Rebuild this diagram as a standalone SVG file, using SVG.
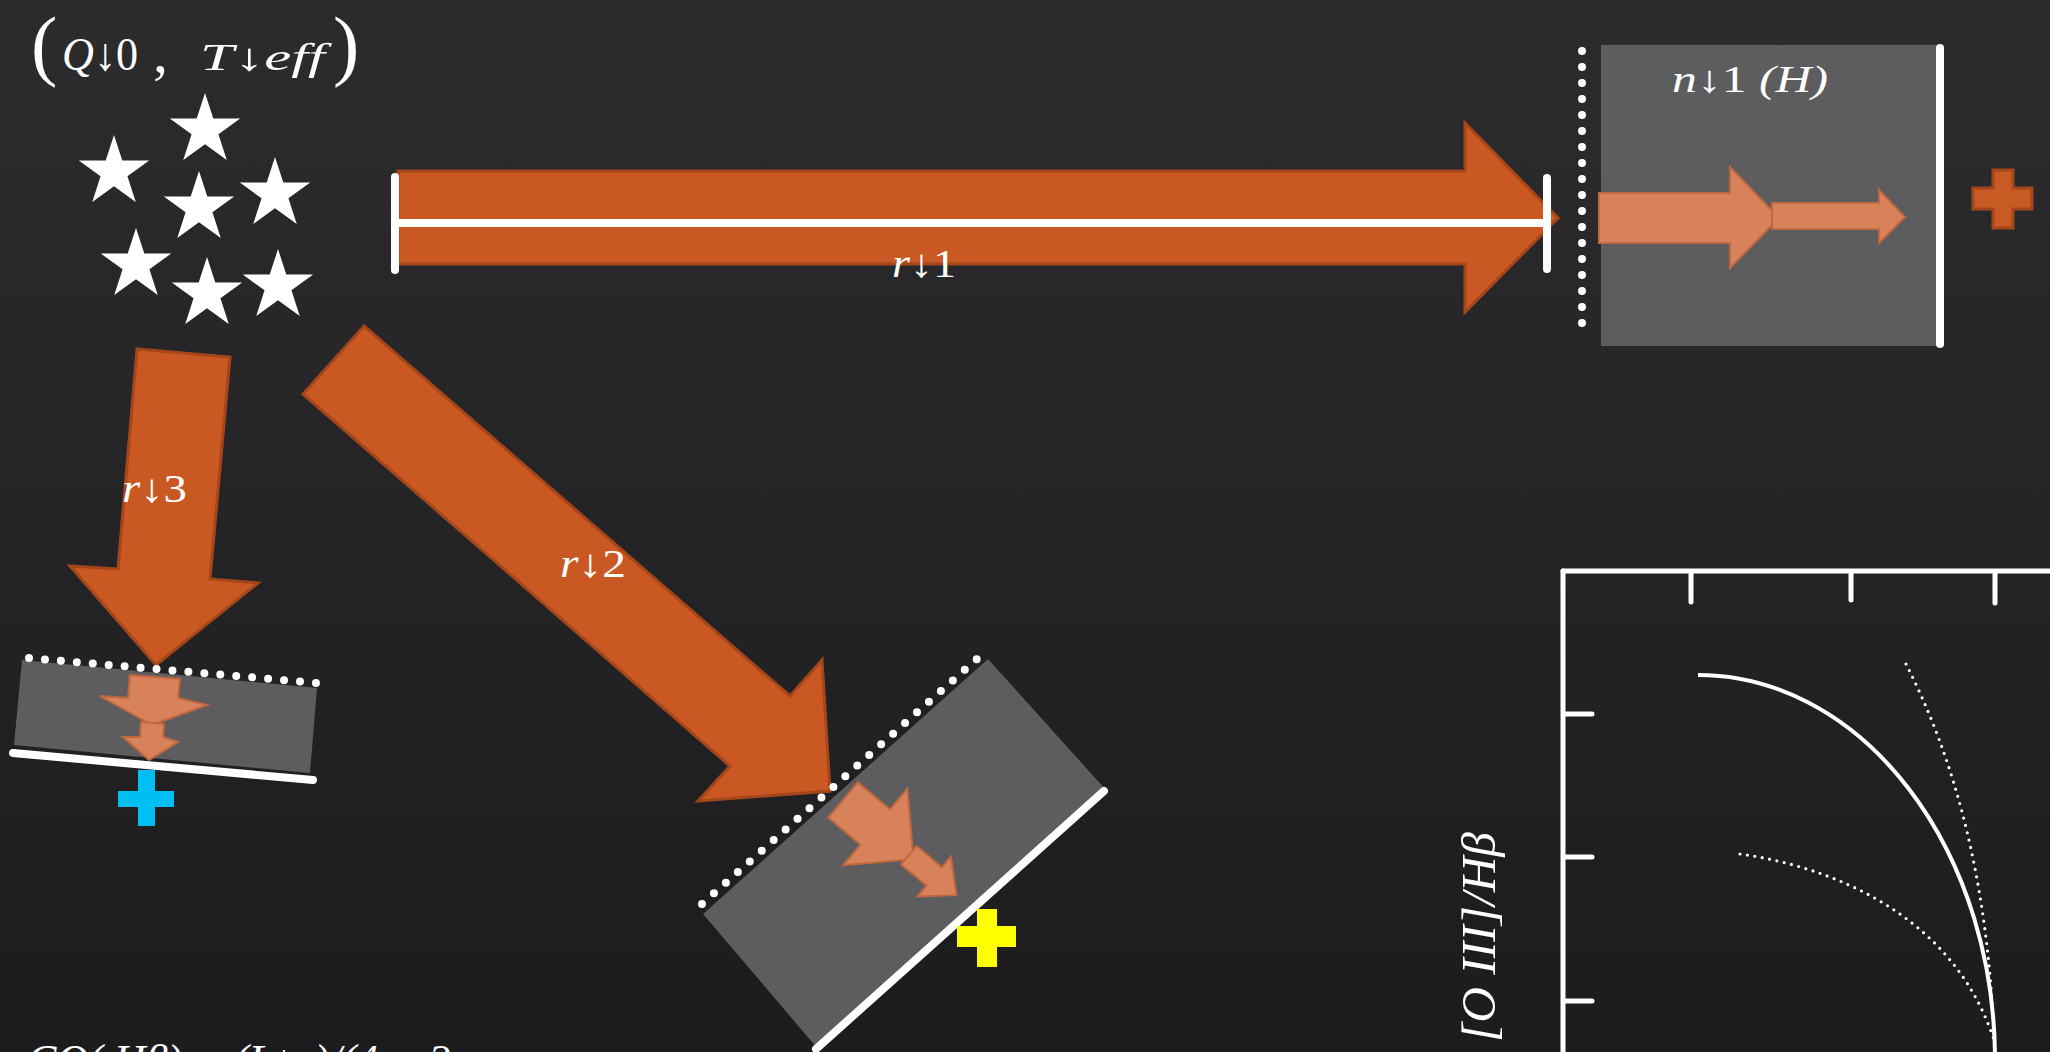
<svg xmlns="http://www.w3.org/2000/svg" xmlns:xlink="http://www.w3.org/1999/xlink" width="2050" height="1052" viewBox="0 0 2050 1052">
<style>
.math{font-family:"Liberation Serif","DejaVu Serif",serif;fill:#ffffff;font-style:italic}
.up{font-style:normal}
.big{fill:#CA5823;stroke:#A5461A;stroke-width:3;stroke-linejoin:miter}
.small{fill:#D8825B;stroke:#C2683F;stroke-width:2}
.slab{fill:#5d5d5f}
.dots{fill:none;stroke:#ffffff;stroke-width:8;stroke-linecap:round;stroke-dasharray:0 16}
.wline{fill:none;stroke:#ffffff;stroke-width:8;stroke-linecap:round}
.axis{fill:none;stroke:#ffffff;stroke-width:5;stroke-linecap:round}
.curve{fill:none;stroke:#ffffff;stroke-width:4}
.dcurve{fill:none;stroke:#ffffff;stroke-width:3.2;stroke-linecap:round;stroke-dasharray:0 7.5}
</style>
<defs>
<linearGradient id="bg" x1="0" y1="0" x2="0" y2="1">
<stop offset="0" stop-color="#2c2c2e"/>
<stop offset="1" stop-color="#1c1c1e"/>
</linearGradient>
<polygon id="star" points="0,-37 8.31,-11.43 35.19,-11.43 13.44,4.37 21.75,29.93 0,14.13 -21.75,29.93 -13.44,4.37 -35.19,-11.43 -8.31,-11.43" fill="#ffffff"/>
</defs>
<rect x="0" y="0" width="2050" height="1052" fill="url(#bg)"/>

<g id="source">
<text class="math up" x="31" y="71" font-size="79">(</text>
<text class="math" x="62" y="70" font-size="46" textLength="76" lengthAdjust="spacingAndGlyphs">Q<tspan class="up">↓0</tspan></text>
<text class="math up" x="153" y="72" font-size="60">,</text>
<text class="math" x="200" y="70" font-size="38" textLength="125" lengthAdjust="spacingAndGlyphs">T<tspan class="up">↓</tspan>eff</text>
<text class="math up" x="333" y="71" font-size="79">)</text>
<use xlink:href="#star" x="205" y="130"/>
<use xlink:href="#star" x="114" y="172"/>
<use xlink:href="#star" x="199" y="208"/>
<use xlink:href="#star" x="275" y="194"/>
<use xlink:href="#star" x="136" y="265"/>
<use xlink:href="#star" x="207" y="294"/>
<use xlink:href="#star" x="278" y="286"/>
</g>

<g id="slab1">
<rect class="slab" x="1601" y="45" width="337" height="301"/>
<line class="dots" x1="1582" y1="51" x2="1582" y2="339"/>
<line class="wline" x1="1940" y1="48" x2="1940" y2="344"/>
<polygon class="small" points="1599,193 1730,193 1730,167 1779,218 1730,268 1730,243 1599,243"/>
<polygon class="small" points="1772,203 1879,203 1879,190 1905,217 1879,243 1879,229 1772,229"/>
<text class="math" x="1672" y="92" font-size="38" textLength="156" lengthAdjust="spacingAndGlyphs">n<tspan class="up">↓1</tspan> (H)</text>
<polygon points="1993,170 2013,170 2013,188 2032,188 2032,209 2013,209 2013,228 1993,228 1993,209 1973,209 1973,188 1993,188" fill="#C85A23" stroke="#A3461B" stroke-width="3"/>
</g>

<g id="slab3">
<polygon class="slab" points="22,660 317,688 310,773 14,745"/>
<polygon class="small" points="130,675 180,679 178,698 207,705 152,725 100,696 128,698"/>
<polygon class="small" points="141,722 164,724 163,737 178,742 149,760 123,737 140,737"/>
<polygon points="138,770 155,770 155,791 174,791 174,807 155,807 155,826 138,826 138,807 118,807 118,791 138,791" fill="#00BEF2"/>
</g>

<g id="slab2">
<polygon class="slab" points="988,659 1106,790 818,1049 703,914"/>
</g>

<g id="connectors">
<polygon class="big" points="398,171 1465,171 1465,123 1558,218 1465,312 1465,264 398,264"/>
<line class="wline" x1="395" y1="223" x2="1547" y2="223" stroke-linecap="butt"/>
<line class="wline" x1="395" y1="177" x2="395" y2="270"/>
<line class="wline" x1="1547" y1="178" x2="1547" y2="269"/>
<text class="math" x="892" y="277" font-size="40" textLength="64" lengthAdjust="spacingAndGlyphs">r<tspan class="up">↓1</tspan></text>
<polygon class="big" points="137,349 230,357 210,579 258,583 156,665 70,566 118,569"/>
<text class="math" x="122" y="502" font-size="40" textLength="65" lengthAdjust="spacingAndGlyphs">r<tspan class="up">↓3</tspan></text>
<polygon class="big" points="364,326 790,696 822,660 830,791 698,801 730,766 303,394"/>
<text class="math" x="560" y="577" font-size="40" textLength="66" lengthAdjust="spacingAndGlyphs">r<tspan class="up">↓2</tspan></text>
</g>

<g id="slab3-edges">
<line class="dots" x1="29" y1="658" x2="317" y2="683"/>
<line class="wline" x1="13" y1="753" x2="313" y2="780" stroke-width="7"/>
</g>

<g id="slab2-edges">
<line class="dots" x1="702" y1="904" x2="978" y2="658"/>
<line class="wline" x1="1104" y1="791" x2="816" y2="1049"/>
<g transform="translate(843,800) rotate(40)">
<polygon class="small" points="0,-23 42,-23 42,-50 92,0 42,50 42,23 0,23"/>
<polygon class="small" points="86,-12 119,-12 119,-26 148,0 119,26 119,12 86,12"/>
</g>
<polygon points="977,909 997,909 997,926 1016,926 1016,947 997,947 997,967 977,967 977,947 957,947 957,926 977,926" fill="#FFFF00"/>
</g>

<g id="chart">
<line class="axis" x1="1563" y1="571" x2="2052" y2="571"/>
<line class="axis" x1="1563" y1="571" x2="1563" y2="1055"/>
<line class="axis" x1="1691" y1="573" x2="1691" y2="602"/>
<line class="axis" x1="1851" y1="573" x2="1851" y2="600"/>
<line class="axis" x1="1995" y1="573" x2="1995" y2="603"/>
<line class="axis" x1="1565" y1="714" x2="1592" y2="714"/>
<line class="axis" x1="1565" y1="857" x2="1592" y2="857"/>
<line class="axis" x1="1565" y1="1001" x2="1592" y2="1001"/>
<path class="curve" d="M1698,675 A297,385 0 0 1 1995,1060"/>
<path class="dcurve" d="M1906,664 C1955,760 1988,880 1994,1040"/>
<path class="dcurve" d="M1740,854 C1840,868 1955,920 1994,1040"/>
<text class="math" transform="translate(1495,1042) rotate(-90)" font-size="48" textLength="210" lengthAdjust="spacingAndGlyphs">[O III]/Hβ</text>
</g>

<text class="math" x="27" y="1075" font-size="44">CQ( Hβ) ∝ (L↓ν)/(4π r2</text>
</svg>
